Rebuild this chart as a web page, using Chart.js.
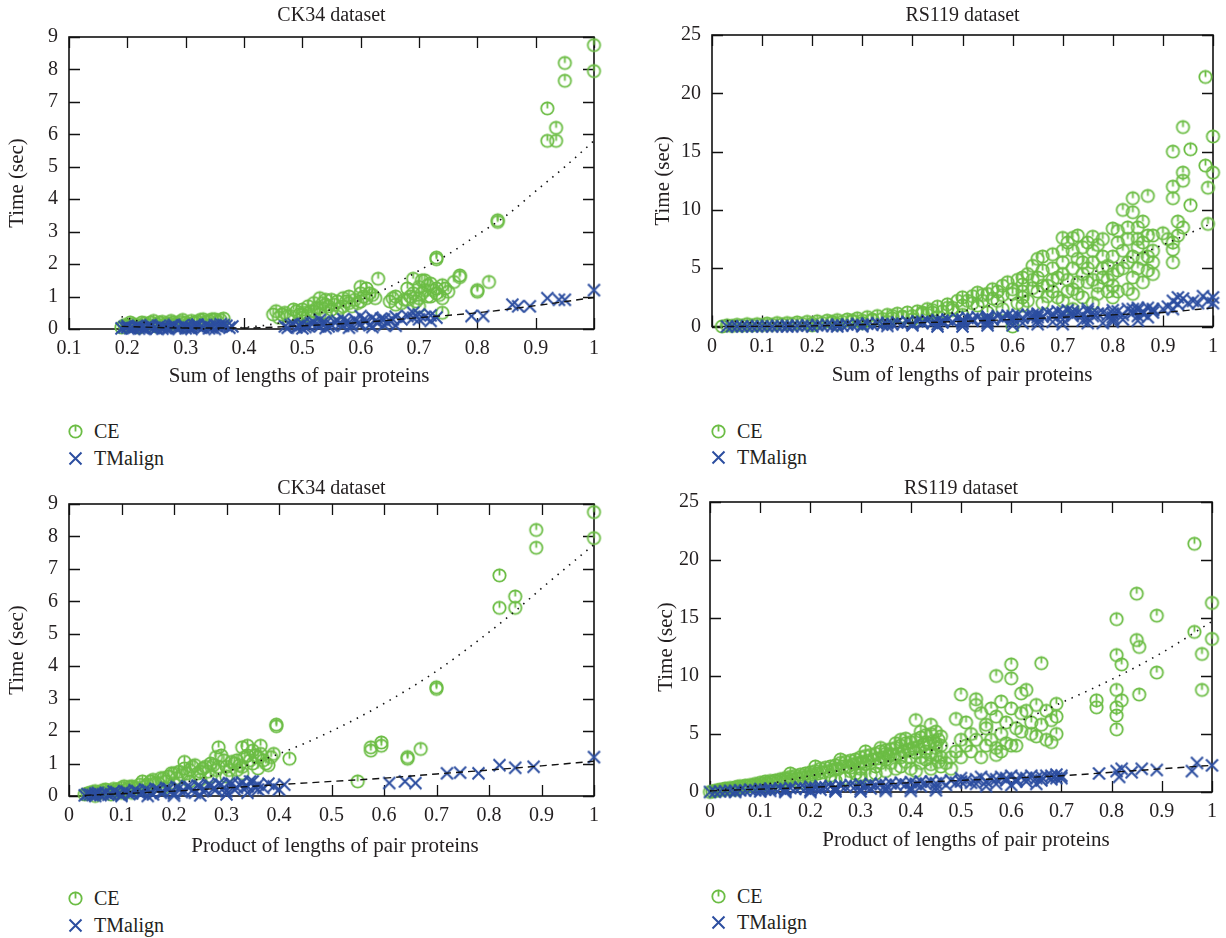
<!DOCTYPE html>
<html>
<head>
<meta charset="utf-8">
<script src="https://cdn.jsdelivr.net/npm/chart.js@4.4.1/dist/chart.umd.min.js"></script>
<style>
  body { margin: 0; width: 1226px; height: 938px; background: #fff; position: relative; overflow: hidden;
         font-family: 'Liberation Serif', serif; color: #231f20; }
  canvas.plot { position: absolute; }
  .lg-mark { position: absolute; }
  .lg-text { position: absolute; font-size: 20px; line-height: 22px; white-space: nowrap; }
</style>
</head>
<body>
<canvas id="c1" class="plot" width="613" height="400" style="left:0;top:0"></canvas>
<canvas id="c2" class="plot" width="613" height="400" style="left:613px;top:0"></canvas>
<canvas id="c3" class="plot" width="613" height="400" style="left:0;top:470px"></canvas>
<canvas id="c4" class="plot" width="613" height="400" style="left:613px;top:470px"></canvas>
<script>
const GREEN = '#6cbd45';
const BLUE = '#2c4ea0';
const INK = '#231f20';
const FONT = "'Liberation Serif', serif";

const seriesNames = ['CE', 'TMalign'];

// ---- CK34, sum of lengths ----
const ck34SumCE = [
  [0.19,0.05],[0.2,0.1],[0.21,0.15],[0.22,0.12],[0.23,0.18],[0.24,0.2],[0.25,0.15],[0.26,0.22],[0.27,0.18],
  [0.28,0.2],[0.29,0.22],[0.3,0.2],[0.31,0.25],[0.32,0.22],[0.33,0.3],[0.34,0.25],[0.35,0.3],[0.36,0.28],
  [0.25,0.08],[0.3,0.1],[0.22,0.05],[0.28,0.12],[0.33,0.15],[0.2,0.08],
  [0.195,0.12],[0.205,0.2],[0.215,0.1],[0.225,0.2],[0.235,0.12],[0.245,0.25],[0.255,0.2],[0.265,0.15],
  [0.275,0.25],[0.285,0.15],[0.295,0.28],[0.305,0.15],[0.315,0.2],[0.325,0.28],[0.335,0.22],[0.345,0.3],
  [0.355,0.22],[0.365,0.32],
  [0.45,0.45],[0.46,0.35],[0.47,0.5],[0.48,0.4],[0.49,0.55],[0.5,0.45],[0.5,0.6],[0.51,0.7],[0.52,0.55],
  [0.52,0.8],[0.53,0.65],[0.53,0.95],[0.54,0.75],[0.55,0.9],[0.55,0.6],[0.56,0.85],[0.57,0.7],[0.57,0.95],
  [0.58,0.8],[0.58,1.0],[0.59,0.9],[0.6,1.1],[0.6,0.85],[0.61,0.95],[0.61,1.25],[0.62,1.05],[0.6,1.3],
  [0.63,1.55],[0.56,0.5],[0.5,0.35],[0.54,0.5],
  [0.455,0.55],[0.465,0.45],[0.475,0.4],[0.485,0.6],[0.495,0.45],[0.505,0.5],[0.515,0.55],[0.525,0.65],
  [0.535,0.8],[0.545,0.7],[0.555,0.75],[0.565,0.65],[0.575,0.85],[0.585,0.7],[0.595,0.8],[0.605,1.0],
  [0.615,1.1],[0.625,0.95],[0.54,0.9],[0.53,0.45],[0.51,0.4],
  [0.65,0.85],[0.66,0.75],[0.66,1.0],[0.67,0.8],[0.68,0.9],[0.69,1.1],[0.69,1.55],[0.7,0.95],[0.7,1.3],
  [0.71,1.2],[0.71,1.5],[0.72,1.0],[0.72,1.4],[0.73,1.1],[0.73,1.25],[0.74,0.95],[0.74,1.35],[0.75,1.15],
  [0.76,1.45],[0.77,1.6],[0.77,1.65],[0.73,2.2],[0.73,2.15],[0.74,0.5],[0.7,0.7],[0.68,1.25],
  [0.655,0.95],[0.675,0.9],[0.685,1.0],[0.695,0.85],[0.705,1.1],[0.715,1.0],[0.725,1.2],[0.735,1.05],
  [0.745,1.25],[0.715,1.35],[0.705,1.5],
  [0.8,1.15],[0.8,1.2],[0.82,1.45],[0.835,3.3],[0.835,3.35],[0.92,6.8],[0.92,5.8],[0.935,6.2],[0.935,5.8],
  [0.95,8.2],[0.95,7.65],[1.0,8.75],[1.0,7.95]
];
const ck34SumTM = [
  [0.19,0.02],[0.2,0.05],[0.21,0.03],[0.22,0.08],[0.23,0.04],[0.24,0.06],[0.25,0.02],[0.26,0.07],[0.27,0.05],
  [0.28,0.09],[0.29,0.04],[0.3,0.08],[0.31,0.06],[0.32,0.1],[0.33,0.05],[0.34,0.09],[0.35,0.12],[0.36,0.07],
  [0.37,0.1],[0.38,0.08],[0.22,0.01],[0.26,0.01],[0.3,0.02],[0.34,0.02],[0.2,0.1],[0.24,0.12],[0.28,0.13],
  [0.32,0.14],[0.36,0.15],[0.23,0.0],[0.27,0.0],[0.31,0.0],[0.35,0.0],
  [0.195,0.06],[0.205,0.02],[0.215,0.08],[0.225,0.05],[0.235,0.1],[0.245,0.03],[0.255,0.09],[0.265,0.04],
  [0.275,0.1],[0.285,0.03],[0.295,0.11],[0.305,0.04],[0.315,0.12],[0.325,0.05],[0.335,0.12],[0.345,0.04],
  [0.355,0.08],[0.365,0.12],[0.375,0.04],
  [0.47,0.08],[0.48,0.12],[0.49,0.05],[0.5,0.15],[0.51,0.1],[0.52,0.2],[0.53,0.08],[0.54,0.18],[0.55,0.12],
  [0.56,0.25],[0.57,0.1],[0.58,0.2],[0.59,0.3],[0.6,0.15],[0.61,0.25],[0.62,0.35],[0.63,0.2],[0.64,0.3],
  [0.65,0.25],[0.66,0.38],[0.5,0.02],[0.54,0.03],[0.58,0.04],[0.62,0.06],[0.53,0.28],[0.57,0.3],[0.6,0.4],
  [0.64,0.12],[0.66,0.1],
  [0.475,0.04],[0.485,0.15],[0.495,0.1],[0.505,0.06],[0.515,0.18],[0.525,0.12],[0.535,0.2],[0.545,0.08],
  [0.555,0.22],[0.565,0.15],[0.575,0.22],[0.585,0.1],[0.595,0.18],[0.605,0.28],[0.615,0.12],[0.625,0.25],
  [0.635,0.32],[0.645,0.2],[0.655,0.3],
  [0.67,0.3],[0.68,0.4],[0.69,0.35],[0.69,0.5],[0.7,0.3],[0.7,0.45],[0.71,0.38],[0.72,0.25],[0.72,0.42],[0.73,0.35],
  [0.79,0.4],[0.81,0.4],[0.86,0.75],[0.87,0.7],[0.89,0.7],[0.92,0.95],[0.94,0.9],[0.95,0.9],[1.0,1.2]
];
const ck34SumCEFit = [
  [0.19,0.38],[0.25,0.12],[0.3,0.03],[0.35,0.0],[0.4,0.05],[0.45,0.15],[0.5,0.35],[0.55,0.6],[0.6,0.9],
  [0.65,1.3],[0.7,1.8],[0.75,2.3],[0.8,2.9],[0.85,3.5],[0.9,4.25],[0.95,5.0],[1.0,5.8]
];
const ck34SumTMFit = [
  [0.19,0.08],[0.3,0.03],[0.4,0.03],[0.5,0.1],[0.6,0.2],[0.7,0.35],[0.8,0.5],[0.9,0.72],[1.0,0.97]
];

// ---- RS119, sum of lengths ----
const rs119SumCE = [
  [0.02,0],[0.03,0.1],[0.05,0.15],[0.07,0.2],[0.09,0.2],[0.11,0.25],[0.13,0.3],[0.15,0.3],[0.17,0.35],
  [0.19,0.4],[0.21,0.45],[0.23,0.5],[0.25,0.55],[0.27,0.6],[0.29,0.7],[0.31,0.8],[0.33,0.9],[0.35,1.0],
  [0.37,1.1],[0.39,1.2],[0.41,1.3],[0.43,1.5],[0.45,1.7],[0.47,1.9],[0.49,2.2],[0.5,2.5],[0.52,2.6],
  [0.53,2.9],[0.55,2.8],[0.56,3.2],[0.58,3.5],[0.59,3.8],[0.6,3.2],[0.61,4.0],[0.62,3.6],[0.63,4.5],
  [0.64,5.2],[0.65,5.8],[0.65,4.2],[0.66,4.8],[0.67,3.5],[0.68,6.2],[0.68,5.0],[0.69,4.2],[0.7,7.6],
  [0.7,5.5],[0.71,7.2],[0.71,4.0],[0.72,6.5],[0.72,3.2],[0.73,5.8],[0.73,7.8],[0.74,6.8],[0.74,4.5],
  [0.75,7.2],[0.75,3.8],[0.76,5.5],[0.76,6.5],[0.77,7.0],[0.77,2.8],[0.78,6.0],[0.78,4.2],[0.79,5.2],
  [0.8,8.4],[0.8,6.0],[0.8,3.5],[0.81,7.2],[0.81,4.8],[0.82,10.0],[0.82,6.5],[0.83,7.5],[0.83,5.5],
  [0.84,11.0],[0.84,9.8],[0.84,4.2],[0.85,8.5],[0.85,6.8],[0.85,5.0],[0.86,7.2],[0.86,9.0],[0.87,11.2],
  [0.87,6.0],[0.87,4.8],[0.88,7.8],[0.88,5.5],[0.88,4.5],[0.86,3.8],[0.83,3.2],[0.79,3.0],[0.74,2.5],
  [0.7,2.2],[0.66,2.0],[0.62,1.8],[0.58,1.5],[0.55,1.2],[0.5,1.0],[0.45,0.8],[0.4,0.6],[0.35,0.4],
  [0.3,0.3],[0.25,0.2],[0.2,0.1],[0.6,0.0],[0.62,2.5],[0.57,2.2],[0.53,1.8],[0.48,1.4],[0.43,1.0],
  [0.38,0.8],[0.68,3.0],[0.72,1.5],[0.76,2.0],[0.8,2.5],[0.84,2.8],
  [0.04,0.05],[0.06,0.08],[0.08,0.1],[0.1,0.12],[0.12,0.15],[0.14,0.18],[0.16,0.2],[0.18,0.22],[0.2,0.25],
  [0.22,0.3],[0.24,0.35],[0.26,0.4],[0.28,0.45],[0.3,0.5],[0.32,0.55],[0.34,0.65],[0.36,0.7],[0.38,0.85],
  [0.4,0.9],[0.42,1.1],[0.44,1.2],[0.46,1.3],[0.48,1.6],[0.5,1.8],[0.52,2.0],[0.54,2.2],[0.56,2.4],
  [0.58,2.7],[0.6,2.8],[0.62,3.0],[0.64,3.3],[0.66,3.5],[0.68,4.0],[0.7,4.5],[0.72,5.0],[0.74,5.5],
  [0.76,4.0],[0.78,5.0],[0.8,4.5],[0.82,5.0],[0.84,6.0],[0.86,5.8],[0.88,6.5],[0.87,7.8],[0.85,7.5],
  [0.83,8.5],[0.81,8.2],[0.78,7.5],[0.76,7.7],[0.72,7.6],[0.7,6.5],[0.66,6.0],[0.64,4.0],[0.62,4.2],
  [0.57,3.0],[0.54,2.7],[0.51,2.2],[0.47,1.6],[0.44,1.4],[0.42,1.2],[0.36,0.9],[0.32,0.6],[0.28,0.5],
  [0.24,0.4],[0.75,5.0],[0.73,3.8],[0.71,3.0],[0.69,2.5],[0.67,2.6],[0.65,3.0],[0.63,2.2],[0.61,2.0],
  [0.79,4.0],[0.81,3.0],[0.77,3.5],[0.73,2.8],
  [0.9,8.0],[0.91,7.5],[0.92,7.2],[0.92,5.5],[0.92,6.6],[0.92,12.0],[0.92,11.0],[0.92,15.0],[0.93,9.0],
  [0.93,7.8],[0.94,17.1],[0.94,13.2],[0.94,12.5],[0.94,8.5],[0.955,15.2],[0.955,10.4],[0.985,21.4],
  [0.985,13.8],[0.99,11.9],[0.99,8.8],[1.0,16.3],[1.0,13.2]
];
const rs119SumTM = [
  [0.03,0],[0.05,0],[0.07,0.02],[0.09,0.03],[0.11,0.04],[0.13,0.05],[0.15,0.06],[0.17,0.08],[0.19,0.1],
  [0.21,0.12],[0.23,0.14],[0.25,0.16],[0.27,0.18],[0.29,0.22],[0.31,0.25],[0.33,0.28],[0.35,0.3],[0.37,0.35],
  [0.39,0.4],[0.41,0.45],[0.43,0.5],[0.45,0.55],[0.47,0.6],[0.49,0.7],[0.51,0.75],[0.53,0.8],[0.55,0.85],
  [0.57,0.9],[0.59,0.95],[0.61,1.0],[0.63,1.0],[0.65,1.1],[0.67,1.2],[0.69,1.3],[0.71,1.4],[0.73,1.2],
  [0.75,1.5],[0.77,1.1],[0.79,1.0],[0.81,1.3],[0.83,1.5],[0.85,1.4],[0.87,1.6],[0.88,1.2],[0.4,0.1],
  [0.45,0.2],[0.5,0.25],[0.55,0.3],[0.6,0.4],[0.65,0.5],[0.7,0.6],[0.75,0.7],[0.8,0.8],[0.85,0.9],
  [0.35,0.05],[0.3,0.02],[0.5,0.0],[0.6,0.1],[0.7,0.2],[0.78,0.3],[0.82,0.6],[0.86,1.1],[0.91,1.7],
  [0.92,2.2],[0.93,1.9],[0.94,2.4],[0.95,2.0],[0.96,2.2],[0.98,2.6],[0.99,2.2],[1.0,2.5],[1.0,2.0],
  [0.25,0.0],[0.15,0.0],[0.55,0.5],[0.65,0.8],[0.72,0.9],
  [0.04,0.02],[0.06,0.01],[0.08,0.0],[0.1,0.02],[0.12,0.0],[0.14,0.03],[0.16,0.02],[0.18,0.04],[0.2,0.0],
  [0.22,0.06],[0.24,0.05],[0.26,0.08],[0.28,0.1],[0.3,0.12],[0.32,0.15],[0.34,0.18],[0.36,0.2],[0.38,0.22],
  [0.4,0.25],[0.42,0.3],[0.44,0.32],[0.46,0.35],[0.48,0.4],[0.5,0.45],[0.52,0.5],[0.54,0.55],[0.56,0.6],
  [0.58,0.65],[0.6,0.7],[0.62,0.75],[0.64,0.8],[0.66,0.85],[0.68,0.9],[0.7,1.0],[0.72,1.1],[0.74,1.0],
  [0.76,0.9],[0.78,1.2],[0.8,1.1],[0.82,1.0],[0.84,1.2],[0.86,1.3],[0.88,1.5],[0.9,1.5],[0.92,1.5],
  [0.93,2.5],[0.97,2.0],[0.45,0.0],[0.55,0.1],[0.65,0.2],[0.75,0.3],[0.8,0.4],[0.85,0.5],[0.62,0.3],
  [0.68,0.4],[0.74,0.5],[0.8,0.6],[0.87,0.8],
  [0.5,0.6],[0.55,0.7],[0.6,0.9],[0.65,1.0],[0.7,1.2],[0.75,1.3],[0.8,1.4],[0.85,1.6],[0.88,1.4],
  [0.84,1.5],[0.76,1.2],[0.72,1.3],[0.68,1.1],[0.64,1.0],[0.58,0.8],[0.52,0.65],[0.46,0.5],[0.42,0.4]
];
const rs119SumCEFit = [
  [0.03,0.5],[0.1,0.3],[0.2,0.3],[0.3,0.45],[0.4,0.75],[0.5,1.3],[0.6,2.3],[0.7,3.7],[0.8,5.3],[0.9,7.0],[1.0,8.9]
];
const rs119SumTMFit = [
  [0.03,0.0],[0.2,0.05],[0.4,0.3],[0.6,0.6],[0.8,1.0],[0.9,1.2],[1.0,1.6]
];

// ---- CK34, product of lengths ----
const ck34ProdCE = [
  [0.03,0.05],[0.04,0.1],[0.05,0.15],[0.06,0.12],[0.07,0.2],[0.08,0.15],[0.09,0.2],[0.1,0.25],[0.11,0.2],
  [0.12,0.3],[0.13,0.25],[0.14,0.45],[0.15,0.35],[0.16,0.5],[0.17,0.4],[0.18,0.55],[0.19,0.6],[0.2,0.7],
  [0.21,0.75],[0.22,1.05],[0.22,0.85],[0.23,0.8],[0.24,0.95],[0.25,0.75],[0.26,0.9],[0.27,1.0],[0.28,0.8],
  [0.28,1.2],[0.285,1.5],[0.29,1.25],[0.3,0.9],[0.31,1.05],[0.32,1.1],[0.33,1.5],[0.33,0.9],[0.34,1.55],
  [0.34,1.25],[0.35,1.0],[0.35,1.4],[0.36,1.2],[0.365,1.55],[0.37,1.1],[0.38,0.95],[0.39,1.3],[0.395,2.2],
  [0.395,2.15],[0.42,1.15],[0.25,0.5],[0.2,0.4],[0.15,0.2],[0.1,0.1],[0.3,0.6],[0.33,0.7],[0.05,0.0],
  [0.08,0.05],[0.12,0.1],[0.18,0.25],[0.23,0.45],[0.27,0.6],[0.32,0.8],[0.36,0.85],
  [0.035,0.08],[0.045,0.12],[0.055,0.1],[0.065,0.18],[0.075,0.15],[0.085,0.22],[0.095,0.18],[0.105,0.3],
  [0.115,0.28],[0.125,0.25],[0.135,0.35],[0.145,0.3],[0.155,0.45],[0.165,0.4],[0.175,0.55],[0.185,0.45],
  [0.195,0.7],[0.205,0.55],[0.215,0.65],[0.225,0.7],[0.235,0.9],[0.245,0.7],[0.255,0.85],[0.265,0.75],
  [0.275,0.95],[0.285,0.9],[0.295,1.1],[0.305,0.8],[0.315,1.0],[0.325,0.95],[0.335,1.2],[0.345,1.1],
  [0.355,1.25],[0.365,1.3],[0.375,1.0],[0.385,1.2],
  [0.55,0.45],[0.575,1.4],[0.575,1.5],[0.595,1.55],[0.595,1.65],[0.645,1.15],[0.645,1.2],[0.67,1.45],
  [0.70,3.3],[0.70,3.35],[0.82,6.8],[0.82,5.8],[0.85,6.15],[0.85,5.8],[0.89,8.2],[0.89,7.65],[1.0,8.75],[1.0,7.95]
];
const ck34ProdTM = [
  [0.03,0.02],[0.04,0.05],[0.05,0.08],[0.06,0.03],[0.07,0.1],[0.08,0.06],[0.09,0.12],[0.1,0.04],[0.11,0.13],
  [0.12,0.08],[0.13,0.15],[0.14,0.1],[0.15,0.18],[0.16,0.05],[0.17,0.2],[0.18,0.12],[0.19,0.22],[0.2,0.08],
  [0.21,0.25],[0.22,0.15],[0.23,0.28],[0.24,0.1],[0.25,0.3],[0.26,0.18],[0.27,0.32],[0.28,0.2],[0.29,0.35],
  [0.3,0.15],[0.31,0.38],[0.32,0.25],[0.33,0.42],[0.34,0.3],[0.35,0.45],[0.36,0.2],[0.36,0.35],[0.1,0.0],
  [0.15,0.0],[0.2,0.01],[0.25,0.02],[0.3,0.05],[0.34,0.1],[0.05,0.0],
  [0.035,0.06],[0.045,0.03],[0.055,0.1],[0.065,0.06],[0.075,0.04],[0.085,0.14],[0.095,0.08],[0.105,0.15],
  [0.115,0.06],[0.125,0.18],[0.135,0.08],[0.145,0.2],[0.155,0.12],[0.165,0.22],[0.175,0.1],[0.185,0.25],
  [0.195,0.15],[0.205,0.28],[0.215,0.12],[0.225,0.3],[0.235,0.18],[0.245,0.32],[0.255,0.15],[0.265,0.35],
  [0.275,0.22],[0.285,0.38],[0.295,0.25],[0.305,0.4],[0.315,0.2],[0.325,0.35],[0.335,0.28],[0.345,0.45],[0.355,0.25],
  [0.37,0.25],[0.38,0.38],[0.39,0.3],[0.4,0.2],[0.41,0.35],[0.61,0.4],[0.64,0.45],[0.66,0.4],[0.72,0.7],
  [0.745,0.72],[0.78,0.7],[0.82,0.95],[0.85,0.87],[0.885,0.9],[1.0,1.2]
];
const ck34ProdCEFit = [
  [0.03,0.0],[0.1,0.1],[0.2,0.35],[0.3,0.75],[0.4,1.3],[0.5,2.0],[0.6,2.85],[0.7,3.85],[0.8,5.05],[0.85,5.7],[0.9,6.4],[1.0,7.75]
];
const ck34ProdTMFit = [
  [0.03,0.02],[0.1,0.07],[0.2,0.15],[0.3,0.25],[0.4,0.35],[0.5,0.45],[0.6,0.55],[0.7,0.68],[0.8,0.8],[0.9,0.93],[1.0,1.07]
];

// ---- RS119, product of lengths ----
const rs119ProdCE = [
  [0,0],[0.01,0.1],[0.02,0.2],[0.03,0.3],[0.04,0.35],[0.05,0.4],[0.06,0.5],[0.07,0.55],[0.08,0.6],[0.09,0.7],
  [0.1,0.8],[0.11,0.9],[0.12,0.95],[0.13,1.0],[0.14,1.1],[0.15,1.2],[0.16,1.3],[0.17,1.4],[0.18,1.5],
  [0.19,1.6],[0.2,1.7],[0.21,1.8],[0.22,2.0],[0.23,2.1],[0.24,2.2],[0.25,2.3],[0.26,2.5],[0.27,2.6],
  [0.28,2.7],[0.29,2.8],[0.3,3.0],[0.31,3.1],[0.32,3.2],[0.33,3.3],[0.34,3.5],[0.35,3.6],[0.36,3.7],
  [0.37,3.8],[0.38,4.0],[0.39,4.2],[0.4,4.3],[0.41,4.5],[0.42,4.7],[0.43,4.9],[0.44,5.0],[0.45,5.2],
  [0.46,4.8],[0.41,6.2],[0.44,5.8],[0.38,4.5],[0.35,3.3],[0.3,2.5],[0.25,2.0],[0.2,1.3],[0.15,0.9],
  [0.1,0.5],[0.05,0.2],[0.36,2.5],[0.4,3.0],[0.43,3.5],[0.45,3.8],[0.46,3.0],[0.33,2.2],[0.28,1.8],
  [0.22,1.1],[0.18,0.8],[0.12,0.4],[0.42,2.5],[0.3,1.5],[0.25,1.0],
  [0.005,0.05],[0.015,0.15],[0.025,0.2],[0.035,0.25],[0.045,0.3],[0.055,0.45],[0.065,0.4],[0.075,0.5],
  [0.085,0.55],[0.095,0.6],[0.105,0.7],[0.115,0.75],[0.125,0.85],[0.135,0.9],[0.145,1.0],[0.155,1.1],
  [0.165,1.1],[0.175,1.2],[0.185,1.3],[0.195,1.4],[0.205,1.5],[0.215,1.6],[0.225,1.7],[0.235,1.8],
  [0.245,1.9],[0.255,2.0],[0.265,2.2],[0.275,2.2],[0.285,2.4],[0.295,2.5],[0.305,2.6],[0.315,2.7],
  [0.325,2.8],[0.335,2.9],[0.345,3.0],[0.355,3.1],[0.365,3.2],[0.375,3.3],[0.385,3.5],[0.395,3.6],
  [0.405,3.8],[0.415,3.9],[0.425,4.1],[0.435,4.2],[0.445,4.4],[0.455,4.5],[0.31,3.5],[0.34,3.8],
  [0.37,4.2],[0.39,4.6],[0.42,5.2],[0.26,2.8],[0.21,2.2],[0.16,1.6],[0.3,2.0],[0.34,2.5],[0.38,3.0],
  [0.41,3.4],[0.44,3.2],[0.45,4.2],[0.46,4.0],[0.455,2.6],[0.44,2.4],[0.48,3.0],[0.49,3.5],[0.51,4.0],
  [0.53,4.5],[0.54,3.0],[0.56,4.5],[0.58,3.5],[0.59,4.2],
  [0.3,1.2],[0.32,1.5],[0.35,1.8],[0.38,2.2],[0.4,2.0],[0.42,3.0],[0.44,2.0],[0.2,0.9],[0.27,1.2],
  [0.35,2.8],[0.37,2.0],[0.39,2.6],[0.41,1.8],[0.43,2.8],[0.45,3.2],[0.33,1.6],[0.29,1.6],[0.24,1.4],
  [0.36,3.2],[0.4,3.7],[0.43,4.3],[0.31,2.4],[0.28,2.1],[0.46,2.2],
  [0.47,2.5],[0.48,2.0],[0.5,8.4],[0.49,6.3],[0.51,6.0],[0.5,4.5],[0.52,3.5],[0.53,8.0],[0.53,7.5],
  [0.54,6.8],[0.55,5.5],[0.55,4.0],[0.56,7.2],[0.57,6.5],[0.57,3.8],[0.58,7.8],[0.58,5.0],[0.59,6.0],
  [0.6,11.0],[0.6,9.8],[0.6,7.2],[0.61,5.5],[0.61,4.0],[0.62,6.8],[0.62,5.2],[0.63,8.8],[0.63,7.0],
  [0.64,6.0],[0.64,5.0],[0.65,7.5],[0.65,4.8],[0.66,11.1],[0.66,5.8],[0.67,7.0],[0.67,4.5],[0.68,6.2],
  [0.68,4.3],[0.69,7.6],[0.69,5.0],[0.69,6.5],[0.57,10.0],[0.57,3.2],[0.6,4.0],[0.62,8.5],[0.55,5.8],
  [0.52,5.0],[0.5,3.0],
  [0.77,7.9],[0.77,7.3],[0.81,14.9],[0.81,11.8],[0.81,8.8],[0.81,7.3],[0.81,6.6],[0.81,5.4],[0.82,11.0],
  [0.82,7.9],[0.85,17.1],[0.85,13.1],[0.855,12.5],[0.855,8.4],[0.89,15.2],[0.89,10.3],[0.965,21.4],
  [0.965,13.8],[0.98,11.9],[0.98,8.8],[1.0,16.3],[1.0,13.2]
];
const rs119ProdTM = [
  [0,0],[0.02,0.05],[0.04,0.1],[0.06,0.15],[0.08,0.2],[0.1,0.25],[0.12,0.3],[0.14,0.3],[0.16,0.35],
  [0.18,0.4],[0.2,0.45],[0.22,0.5],[0.24,0.5],[0.26,0.55],[0.28,0.6],[0.3,0.65],[0.32,0.7],[0.34,0.7],
  [0.36,0.75],[0.38,0.8],[0.4,0.85],[0.42,0.9],[0.44,0.9],[0.46,0.95],[0.1,0.05],[0.15,0.1],[0.2,0.15],
  [0.25,0.2],[0.3,0.25],[0.35,0.3],[0.4,0.35],[0.45,0.4],[0.05,0.0],[0.15,0.0],[0.25,0.05],[0.35,0.1],[0.45,0.15],
  [0.01,0.02],[0.03,0.06],[0.05,0.1],[0.07,0.12],[0.09,0.15],[0.11,0.2],[0.13,0.22],[0.15,0.25],[0.17,0.28],
  [0.19,0.3],[0.21,0.35],[0.23,0.4],[0.25,0.4],[0.27,0.45],[0.29,0.5],[0.31,0.5],[0.33,0.55],[0.35,0.6],
  [0.37,0.6],[0.39,0.65],[0.41,0.7],[0.43,0.7],[0.45,0.75],[0.12,0.1],[0.22,0.2],[0.32,0.3],[0.42,0.5],
  [0.2,0.0],[0.3,0.05],[0.4,0.1],
  [0.47,0.6],[0.49,0.8],[0.51,1.0],[0.53,0.7],[0.57,1.1],[0.59,1.2],[0.61,0.9],[0.63,1.2],[0.66,1.3],[0.68,1.4],[0.7,1.2],
  [0.48,1.0],[0.5,0.9],[0.5,1.2],[0.52,0.8],[0.53,1.1],[0.54,1.3],[0.55,0.9],[0.56,1.2],[0.57,0.7],
  [0.58,1.3],[0.59,1.0],[0.6,1.4],[0.61,1.1],[0.62,1.3],[0.63,0.9],[0.64,1.4],[0.65,1.2],[0.66,1.0],
  [0.67,1.4],[0.68,1.1],[0.69,1.5],[0.69,1.2],[0.7,1.4],[0.55,0.5],[0.6,0.6],[0.65,0.7],
  [0.775,1.6],[0.81,1.8],[0.815,1.3],[0.82,2.0],[0.84,1.7],[0.86,2.0],[0.89,1.9],[0.96,1.8],[0.97,2.5],[1.0,2.3]
];
const rs119ProdCEFit = [
  [0,0.1],[0.1,0.6],[0.2,1.4],[0.3,2.2],[0.4,3.1],[0.5,4.4],[0.6,5.8],[0.7,7.7],[0.8,9.7],[0.9,12.0],[1.0,14.7]
];
const rs119ProdTMFit = [
  [0,0.1],[0.2,0.4],[0.4,0.8],[0.6,1.2],[0.7,1.4],[0.8,1.7],[0.9,2.0],[1.0,2.3]
];

// marker images
function ceMarker() {
  const c = document.createElement('canvas');
  c.width = 17; c.height = 17;
  const g = c.getContext('2d');
  g.strokeStyle = GREEN; g.lineWidth = 1.8;
  g.beginPath(); g.arc(8.5, 8.5, 6.2, 0, Math.PI * 2); g.stroke();
  g.beginPath(); g.moveTo(8.5, 1.8); g.lineTo(8.5, 8.5); g.stroke();
  return c;
}
function tmMarker() {
  const c = document.createElement('canvas');
  c.width = 15; c.height = 15;
  const g = c.getContext('2d');
  g.strokeStyle = BLUE; g.lineWidth = 2;
  g.beginPath();
  g.moveTo(1.5, 1.5); g.lineTo(13.5, 13.5);
  g.moveTo(13.5, 1.5); g.lineTo(1.5, 13.5);
  g.stroke();
  return c;
}
const CE_IMG = ceMarker();
const TM_IMG = tmMarker();

const TICK = 11;
// box with mirrored inner ticks, plus the x-axis label (placed where the original has it)
const frame = {
  id: 'frame',
  beforeDatasetsDraw(chart, args, opts) {
    const { ctx, chartArea: a, scales: { x, y } } = chart;
    ctx.save();
    ctx.strokeStyle = '#111';
    ctx.lineWidth = 1.3;
    ctx.beginPath();
    x.ticks.forEach(t => {
      const p = Math.round(x.getPixelForValue(t.value)) + 0.5;
      ctx.moveTo(p, a.bottom); ctx.lineTo(p, a.bottom - TICK);
      ctx.moveTo(p, a.top); ctx.lineTo(p, a.top + TICK);
    });
    y.ticks.forEach(t => {
      const p = Math.round(y.getPixelForValue(t.value)) + 0.5;
      ctx.moveTo(a.left, p); ctx.lineTo(a.left + TICK, p);
      ctx.moveTo(a.right, p); ctx.lineTo(a.right - TICK, p);
    });
    ctx.stroke();
    ctx.lineWidth = 1.6;
    ctx.strokeRect(a.left, a.top, a.right - a.left, a.bottom - a.top);

    ctx.fillStyle = INK;
    ctx.font = '21px ' + FONT;
    ctx.textAlign = 'center';
    ctx.textBaseline = 'alphabetic';
    ctx.fillText(opts.text, opts.cx, opts.baseline);
    ctx.restore();
  }
};

const pts = arr => arr.map(([x, y]) => ({ x, y }));

function makeChart(id, o) {
  new Chart(document.getElementById(id), {
    type: 'scatter',
    data: {
      datasets: [
        { label: 'CE fit', data: pts(o.ceFit), showLine: true, pointRadius: 0, borderColor: '#111',
          borderWidth: 1.6, borderDash: [1.5, 6], cubicInterpolationMode: 'monotone', order: 2, clip: false },
        { label: 'TMalign fit', data: pts(o.tmFit), showLine: true, pointRadius: 0, borderColor: '#111',
          borderWidth: 1.4, borderDash: [7, 5], cubicInterpolationMode: 'monotone', order: 1, clip: false },
        { label: seriesNames[0], data: pts(o.ce), pointStyle: CE_IMG, pointRadius: 6, order: 4, clip: false },
        { label: seriesNames[1], data: pts(o.tm), pointStyle: TM_IMG, pointRadius: 6, order: 3, clip: false }
      ]
    },
    options: {
      responsive: false,
      animation: false,
      layout: { padding: { left: 0, right: o.padRight, top: 0, bottom: 0 } },
      plugins: {
        legend: { display: false },
        tooltip: { enabled: false },
        title: {
          display: true, text: o.title, color: INK, fullSize: false,
          font: { family: FONT, size: 20, weight: 'normal' },
          padding: { top: o.titleTop, bottom: o.titleBottom }
        },
        frame: { text: o.xTitle, cx: o.xTitleX, baseline: o.xTitleY }
      },
      scales: {
        x: {
          type: 'linear', min: o.xMin, max: 1,
          grid: { display: false, drawTicks: false },
          border: { display: false },
          ticks: { stepSize: 0.1, padding: 8, color: INK, font: { family: FONT, size: 20 },
                   maxRotation: 0, autoSkip: false,
                   callback: v => String(Number(v.toFixed(1))) },
          title: { display: false },
          afterFit: s => { s.height = o.xH; }
        },
        y: {
          type: 'linear', min: 0, max: o.yMax,
          grid: { display: false, drawTicks: false },
          border: { display: false },
          ticks: { stepSize: o.yStep, padding: 11, color: INK, font: { family: FONT, size: 20 } },
          title: { display: true, text: 'Time (sec)', color: INK, font: { family: FONT, size: 21 },
                   padding: { top: o.yTitleLeft, bottom: 0 } },
          afterFit: s => { s.width = o.yW; }
        }
      }
    },
    plugins: [frame]
  });
}

Chart.defaults.font.family = FONT;

makeChart('c1', { title: 'CK34 dataset', xTitle: 'Sum of lengths of pair proteins',
  ce: ck34SumCE, tm: ck34SumTM, ceFit: ck34SumCEFit, tmFit: ck34SumTMFit,
  xMin: 0.1, yMax: 9, yStep: 1, yW: 69, padRight: 19, titleTop: 4, titleBottom: 9,
  xH: 71, xTitleX: 299, xTitleY: 382, yTitleLeft: 5 });
makeChart('c2', { title: 'RS119 dataset', xTitle: 'Sum of lengths of pair proteins',
  ce: rs119SumCE, tm: rs119SumTM, ceFit: rs119SumCEFit, tmFit: rs119SumTMFit,
  xMin: 0, yMax: 25, yStep: 5, yW: 99, padRight: 5, titleTop: 4, titleBottom: 7,
  xH: 73.5, xTitleX: 349, xTitleY: 381, yTitleLeft: 38 });
makeChart('c3', { title: 'CK34 dataset', xTitle: 'Product of lengths of pair proteins',
  ce: ck34ProdCE, tm: ck34ProdTM, ceFit: ck34ProdCEFit, tmFit: ck34ProdTMFit,
  xMin: 0, yMax: 9, yStep: 1, yW: 69, padRight: 19, titleTop: 7, titleBottom: 3,
  xH: 74, xTitleX: 335, xTitleY: 382, yTitleLeft: 5 });
makeChart('c4', { title: 'RS119 dataset', xTitle: 'Product of lengths of pair proteins',
  ce: rs119ProdCE, tm: rs119ProdTM, ceFit: rs119ProdCEFit, tmFit: rs119ProdTMFit,
  xMin: 0, yMax: 25, yStep: 5, yW: 97, padRight: 14, titleTop: 7, titleBottom: 1,
  xH: 78, xTitleX: 353, xTitleY: 376, yTitleLeft: 41 });

// legends (HTML, below each panel)
function makeLegend(mx, y1, y2) {
  [[CE_IMG, seriesNames[0], y1], [TM_IMG, seriesNames[1], y2]].forEach(([img, name, y]) => {
    const m = document.createElement('canvas');
    m.width = img.width; m.height = img.height;
    m.className = 'lg-mark';
    m.style.left = (mx - img.width / 2) + 'px';
    m.style.top = (y - img.height / 2) + 'px';
    m.getContext('2d').drawImage(img, 0, 0);
    document.body.appendChild(m);
    const t = document.createElement('div');
    t.className = 'lg-text';
    t.textContent = name;
    t.style.left = (mx + 19) + 'px';
    t.style.top = (y - 11) + 'px';
    document.body.appendChild(t);
  });
}
makeLegend(75, 431, 458);
makeLegend(718, 431, 457);
makeLegend(75, 898, 925);
makeLegend(718, 896, 922);
</script>
</body>
</html>
